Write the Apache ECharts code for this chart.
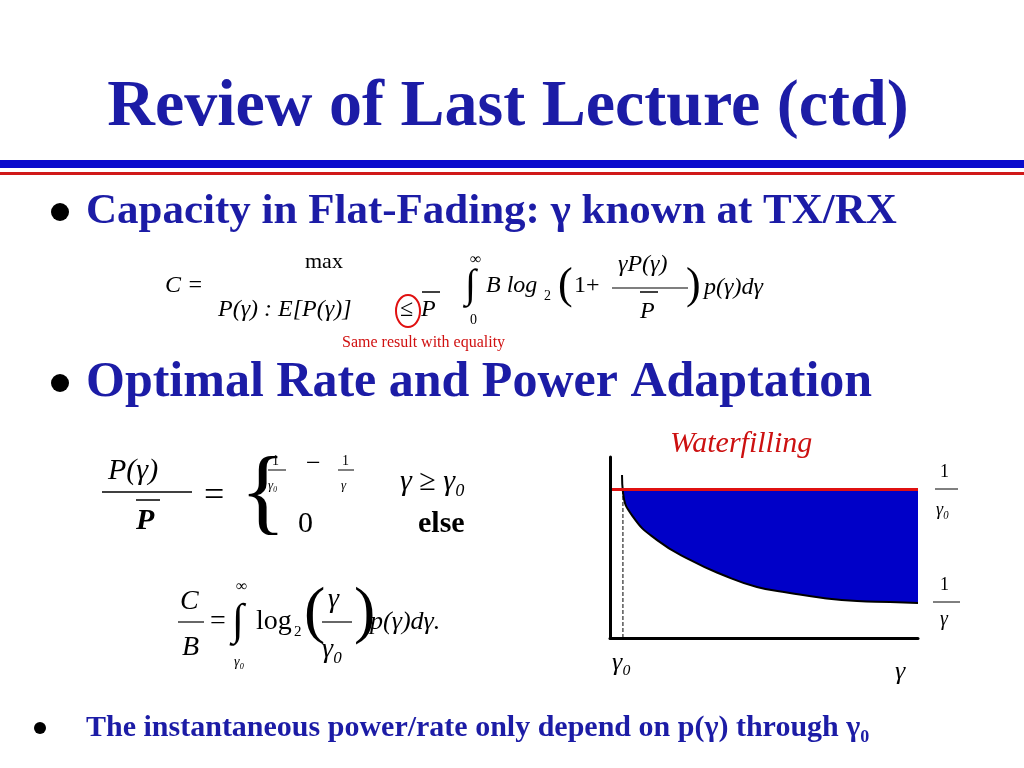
<!DOCTYPE html><html><head><meta charset="utf-8">
<script src="https://cdn.jsdelivr.net/npm/echarts@6/dist/echarts.min.js"></script>
<style>html,body{margin:0;background:#fff}#c{width:1024px;height:768px}</style></head><body><div id="c"></div><script>
const curveX=[3.9,4.2,7.5,15.3,26,36.7,47.7,58.4,69.2,80.2,90.9,100];
const curveY=[90,80.7,66.9,54.1,43.1,34.8,28.2,24.9,22.1,20.4,19.9,19.3];
const waterLevel=82;
const gamma0=4.2;
const ch=echarts.init(document.getElementById('c'));
const curvePts=curveX.map((x,i)=>[x,curveY[i]]);
const serif='Liberation Serif, Times New Roman, serif';
const blue='#1c1ca6';
function t(x,y,s,o){return Object.assign({type:'text',x,y,style:Object.assign({text:s,font:'22px '+serif,fill:'#000',textVerticalAlign:'middle'},o||{})});}
function ln(x1,y1,x2,y2,w){return {type:'line',shape:{x1,y1,x2,y2},style:{stroke:'#000',lineWidth:w||1.2}};}
ch.setOption({animation:false,
grid:{left:610,top:457,width:308,height:181},
xAxis:{type:'value',min:0,max:100,z:10,axisLine:{lineStyle:{color:'#000',width:3}},axisTick:{show:false},axisLabel:{show:false},splitLine:{show:false}},
yAxis:{type:'value',min:0,max:100,z:10,axisLine:{show:true,lineStyle:{color:'#000',width:3}},axisTick:{show:false},axisLabel:{show:false},splitLine:{show:false}},
series:[
{type:'line',data:[[gamma0,waterLevel],[100,waterLevel]],symbol:'none',lineStyle:{width:0},areaStyle:{color:'#0000c8',opacity:1}},
{type:'line',data:curvePts,smooth:true,symbol:'none',lineStyle:{width:0},areaStyle:{color:'#fff',opacity:1}},
{type:'line',data:[[gamma0,0],[gamma0,waterLevel]],symbol:'none',lineStyle:{color:'#000',width:1,type:'dashed'}},
{type:'line',data:curvePts,symbol:'none',smooth:true,lineStyle:{color:'#000',width:2}},
{type:'line',data:[[0.5,waterLevel],[100,waterLevel]],symbol:'none',lineStyle:{color:'#e01010',width:3}}
],
graphic:[
t(508,108,'Review of Last Lecture (ctd)',{font:'bold 66px '+serif,fill:blue,textAlign:'center'}),
{type:'rect',shape:{x:0,y:160,width:1024,height:8},style:{fill:'#0a0acc'}},
{type:'rect',shape:{x:0,y:172,width:1024,height:3},style:{fill:'#d01818'}},
{type:'circle',shape:{cx:60,cy:212,r:9},style:{fill:'#000'}},
t(86,212,'Capacity in Flat-Fading: γ known at TX/RX',{font:'bold 43px '+serif,fill:blue}),
t(305,262,'max'),
t(165,286,'C =',{font:'italic 24px '+serif}),
t(218,310,'P(γ) : E[P(γ)]',{font:'italic 24px '+serif}),
t(400,310,'≤',{font:'24px '+serif}),
t(421,310,'P',{font:'italic 24px '+serif}),
ln(422,292,440,292,1.5),
{type:'ellipse',shape:{cx:408,cy:311,rx:12,ry:16},style:{fill:'none',stroke:'#e01010',lineWidth:2}},
t(470,260,'∞',{font:'16px '+serif}),
t(465,286,'∫',{font:'40px '+serif}),
t(470,320,'0',{font:'14px '+serif}),
t(486,286,'B log',{font:'italic 24px '+serif}),
t(544,296,'2',{font:'14px '+serif}),
t(558,286,'(',{font:'44px '+serif}),
t(574,286,'1+',{font:'24px '+serif}),
t(618,265,'γP(γ)',{font:'italic 24px '+serif}),
ln(612,288,688,288),
t(640,312,'P',{font:'italic 24px '+serif}),
ln(640,292,658,292,1.5),
t(686,286,')',{font:'44px '+serif}),
t(704,288,'p(γ)dγ',{font:'italic 24px '+serif}),
t(342,343,'Same result with equality',{font:'16px '+serif,fill:'#d01010'}),
{type:'circle',shape:{cx:60,cy:383,r:9},style:{fill:'#000'}},
t(86,383,'Optimal Rate and Power Adaptation',{font:'bold 50px '+serif,fill:blue}),
t(670,444,'Waterfilling',{font:'italic 30px '+serif,fill:'#cc1010'}),
t(108,471,'P(γ)',{font:'italic 30px '+serif}),
ln(102,492,192,492,1.5),
t(136,521,'P',{font:'italic bold 30px '+serif}),
ln(136,500,160,500,1.5),
t(204,497,'=',{font:'36px '+serif}),
t(240,497,'{',{font:'96px '+serif}),
t(272,461,'1',{font:'14px '+serif}),ln(268,470,286,470,1),t(268,486,'γ₀',{font:'italic 13px '+serif}),
t(306,464,'−',{font:'26px '+serif}),
t(342,461,'1',{font:'14px '+serif}),ln(338,470,354,470,1),t(341,486,'γ',{font:'italic 13px '+serif}),
t(400,482,'γ ≥ γ₀',{font:'italic 30px '+serif}),
t(298,524,'0',{font:'30px '+serif}),
t(418,524,'else',{font:'bold 30px '+serif}),
t(180,602,'C',{font:'italic 28px '+serif}),
ln(178,622,204,622),
t(182,648,'B',{font:'italic 28px '+serif}),
t(210,622,'=',{font:'28px '+serif}),
t(236,587,'∞',{font:'16px '+serif}),
t(232,622,'∫',{font:'44px '+serif}),
t(234,662,'γ₀',{font:'italic 14px '+serif}),
t(256,622,'log',{font:'28px '+serif}),
t(294,632,'2',{font:'15px '+serif}),
t(304,614,'(',{font:'64px '+serif}),
t(328,600,'γ',{font:'italic 28px '+serif}),
ln(322,622,352,622),
t(322,650,'γ₀',{font:'italic 28px '+serif}),
t(354,614,')',{font:'64px '+serif}),
t(370,622,'p(γ)dγ.',{font:'italic 26px '+serif}),
t(940,472,'1',{font:'18px '+serif}),
ln(935,489,958,489,1),
t(936,510,'γ₀',{font:'italic 18px '+serif}),
t(940,585,'1',{font:'18px '+serif}),
ln(933,602,960,602,1),
t(940,620,'γ',{font:'italic 20px '+serif}),
t(612,663,'γ₀',{font:'italic 26px '+serif}),
t(895,672,'γ',{font:'italic 26px '+serif}),
{type:'circle',shape:{cx:40,cy:728,r:6},style:{fill:'#000'}},
t(86,728,'The instantaneous power/rate only depend on p(γ) through γ₀',{font:'bold 30px '+serif,fill:blue})
]});
</script></body></html>
